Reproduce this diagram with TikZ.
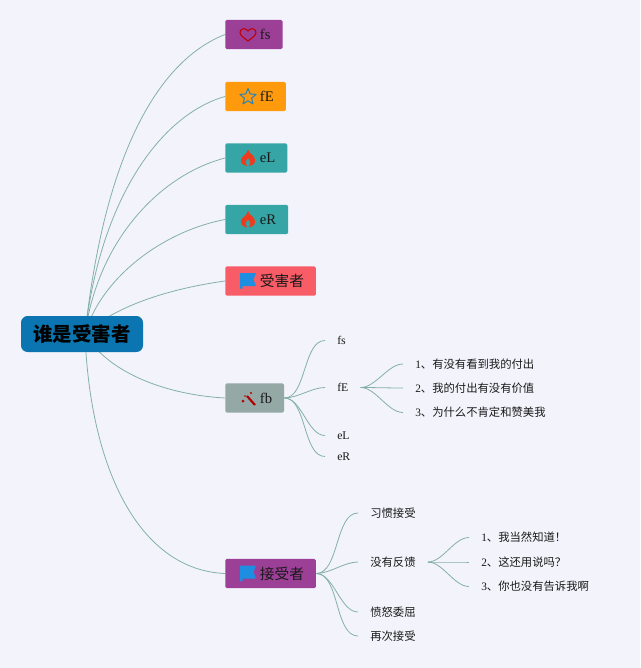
\documentclass[tikz,border=0pt]{standalone}
\usepackage{fontspec}
\setmainfont{Liberation Serif}
\newfontfamily\cjk{Noto Sans CJK SC}
\usetikzlibrary{backgrounds}
\definecolor{pagebg}{HTML}{F3F3FB}
\definecolor{rootblue}{HTML}{0A75B0}
\definecolor{plum}{HTML}{9C3F97}
\definecolor{amber}{HTML}{FF9A0D}
\definecolor{teal}{HTML}{36A5A5}
\definecolor{coral}{HTML}{F85C66}
\definecolor{slate}{HTML}{94A8A5}
\definecolor{linkcol}{HTML}{84B0AA}
\definecolor{flagblue}{HTML}{1E8FE0}
\definecolor{flamered}{HTML}{F03A1E}
\newcommand{\boxtext}[1]{\hspace{17pt}#1}

\begin{document}
\begin{tikzpicture}[x=0.75pt,y=-0.75pt]
% Define styles
\tikzstyle{rootbox} = [rectangle, rounded corners=5pt, minimum width=91.5pt, minimum height=27pt, fill=rootblue, font=\cjk\bfseries\fontsize{14.6}{16}\selectfont, text=black]
\tikzstyle{topicbox} = [rectangle, rounded corners=1.2pt, anchor=west, inner xsep=9pt, inner ysep=0pt, minimum height=22pt, font=\fontsize{11}{13}\selectfont, text=black!90]
\tikzstyle{leaf} = [anchor=west, inner xsep=9pt, inner ysep=1pt, font=\fontsize{8.8}{10}\selectfont, text=black!90]
\tikzstyle{cjkleaf} = [leaf, font=\cjk\fontsize{8.5}{10}\selectfont]
\tikzstyle{numleaf} = [leaf, font=\fontsize{8.5}{10}\selectfont]
\tikzstyle{curve} = [draw=linkcol, line width=0.6pt]
\tikzstyle{link} = [draw=linkcol, line width=0.6pt, out=0, in=180, looseness=0.8]

% Nodes
\node (root) [rootbox] at (82,334) {谁是受害者};
\node (fs) [topicbox, fill=plum] at (225,34.5) {\boxtext{fs}};
\node (fE) [topicbox, fill=amber] at (225,96.5) {\boxtext{fE}};
\node (eL) [topicbox, fill=teal] at (225,158) {\boxtext{eL}};
\node (eR) [topicbox, fill=teal] at (225,219.5) {\boxtext{eR}};
\node (victim) [topicbox, fill=coral] at (225,281) {\boxtext{\cjk 受害者}};
\node (fb) [topicbox, fill=slate] at (225,398) {\boxtext{fb}};
\node (taker) [topicbox, fill=plum] at (225,573.5) {\boxtext{\cjk 接受者}};

% Leaves of fb
\node (fbfs) [leaf] at (325,340.5) {fs};
\node (fbfE) [leaf] at (325,387.5) {fE};
\node (fbeL) [leaf] at (325,435.5) {eL};
\node (fbeR) [leaf] at (325,456.5) {eR};
\node (askA) [numleaf] at (403,364) {1{\cjk 、有没有看到我的付出}};
\node (askB) [numleaf] at (403,388) {2{\cjk 、我的付出有没有价值}};
\node (askC) [numleaf] at (403,412.5) {3{\cjk 、为什么不肯定和赞美我}};

% Leaves of taker
\node (accA) [cjkleaf] at (358,513) {习惯接受};
\node (accB) [cjkleaf] at (358,562) {没有反馈};
\node (accC) [cjkleaf] at (358,612) {愤怒委屈};
\node (accD) [cjkleaf] at (358,636) {再次接受};
\node (ansA) [numleaf] at (469,537.5) {1{\cjk 、我当然知道！}};
\node (ansB) [numleaf] at (469,562) {2{\cjk 、这还用说吗？}};
\node (ansC) [numleaf] at (469,586.5) {3{\cjk 、你也没有告诉我啊}};

% Icons
\draw[red!75!black, line width=0.8pt, shift={(248,34.5)}] (0,6.5) .. controls (-4,3.5) and (-8,1) .. (-8,-2) .. controls (-8,-6.5) and (-2,-7) .. (0,-3.5) .. controls (2,-7) and (8,-6.5) .. (8,-2) .. controls (8,1) and (4,3.5) .. (0,6.5) -- cycle;
\draw[teal!80!blue, line width=0.8pt, line join=round, shift={(248,97)}] (-90:8.5) -- (-54:3.8) -- (-18:8.5) -- (18:3.8) -- (54:8.5) -- (90:3.8) -- (126:8.5) -- (162:3.8) -- (198:8.5) -- (234:3.8) -- cycle;
\foreach \fx/\fy in {248/158, 248/219.5} {
  \fill[flamered, shift={(\fx,\fy)}] (0,-8.5) .. controls (1,-4) and (7,-3) .. (7,2) .. controls (7,6) and (4,8) .. (1,8) .. controls (3,6) and (3,3) .. (0,0) .. controls (-3,3) and (-3,6) .. (-1,8) .. controls (-4,8) and (-7,6) .. (-7,2) .. controls (-7,-2) and (-1,-3) .. (0,-8.5) -- cycle;
}
\foreach \fx/\fy in {248/280.5, 248/573} {
  \fill[flagblue, shift={(\fx,\fy)}] (-8,-7.5) -- (8,-7.5) -- (5.5,-1) -- (8,5.5) -- (-5.5,5.5) -- (-5.5,8) -- (-8,8) -- cycle;
}
\draw[red!70!black, line width=1.6pt] (247,396) -- (255,405);
\fill[red!70!black] (243,401) circle (1.5) (251,393) circle (1.1) (245,396) circle (0.8);

% Connectors
\begin{scope}[on background layer]
\fill[pagebg] (0,0) rectangle (640,668);
\coordinate (hub) at (85,334);
\draw[curve] (hub) .. controls (105,150) and (160,60) .. (fs.west);
\draw[curve] (hub) .. controls (100,200) and (160,115) .. (fE.west);
\draw[curve] (hub) .. controls (98,240) and (160,175) .. (eL.west);
\draw[curve] (hub) .. controls (100,280) and (160,232) .. (eR.west);
\draw[curve] (hub) .. controls (110,310) and (160,290) .. (victim.west);
\draw[curve] (hub) .. controls (110,375) and (170,395) .. (fb.west);
\draw[curve] (hub) .. controls (90,470) and (140,570) .. (taker.west);
\draw[link] (fb.east) to (fbfs.west);
\draw[link] (fb.east) to (fbfE.west);
\draw[link] (fb.east) to (fbeL.west);
\draw[link] (fb.east) to (fbeR.west);
\draw[link] (fbfE.east) to (askA.west);
\draw[link] (fbfE.east) to (askB.west);
\draw[link] (fbfE.east) to (askC.west);
\draw[link] (taker.east) to (accA.west);
\draw[link] (taker.east) to (accB.west);
\draw[link] (taker.east) to (accC.west);
\draw[link] (taker.east) to (accD.west);
\draw[link] (accB.east) to (ansA.west);
\draw[link] (accB.east) to (ansB.west);
\draw[link] (accB.east) to (ansC.west);
\end{scope}
\end{tikzpicture}
\end{document}
